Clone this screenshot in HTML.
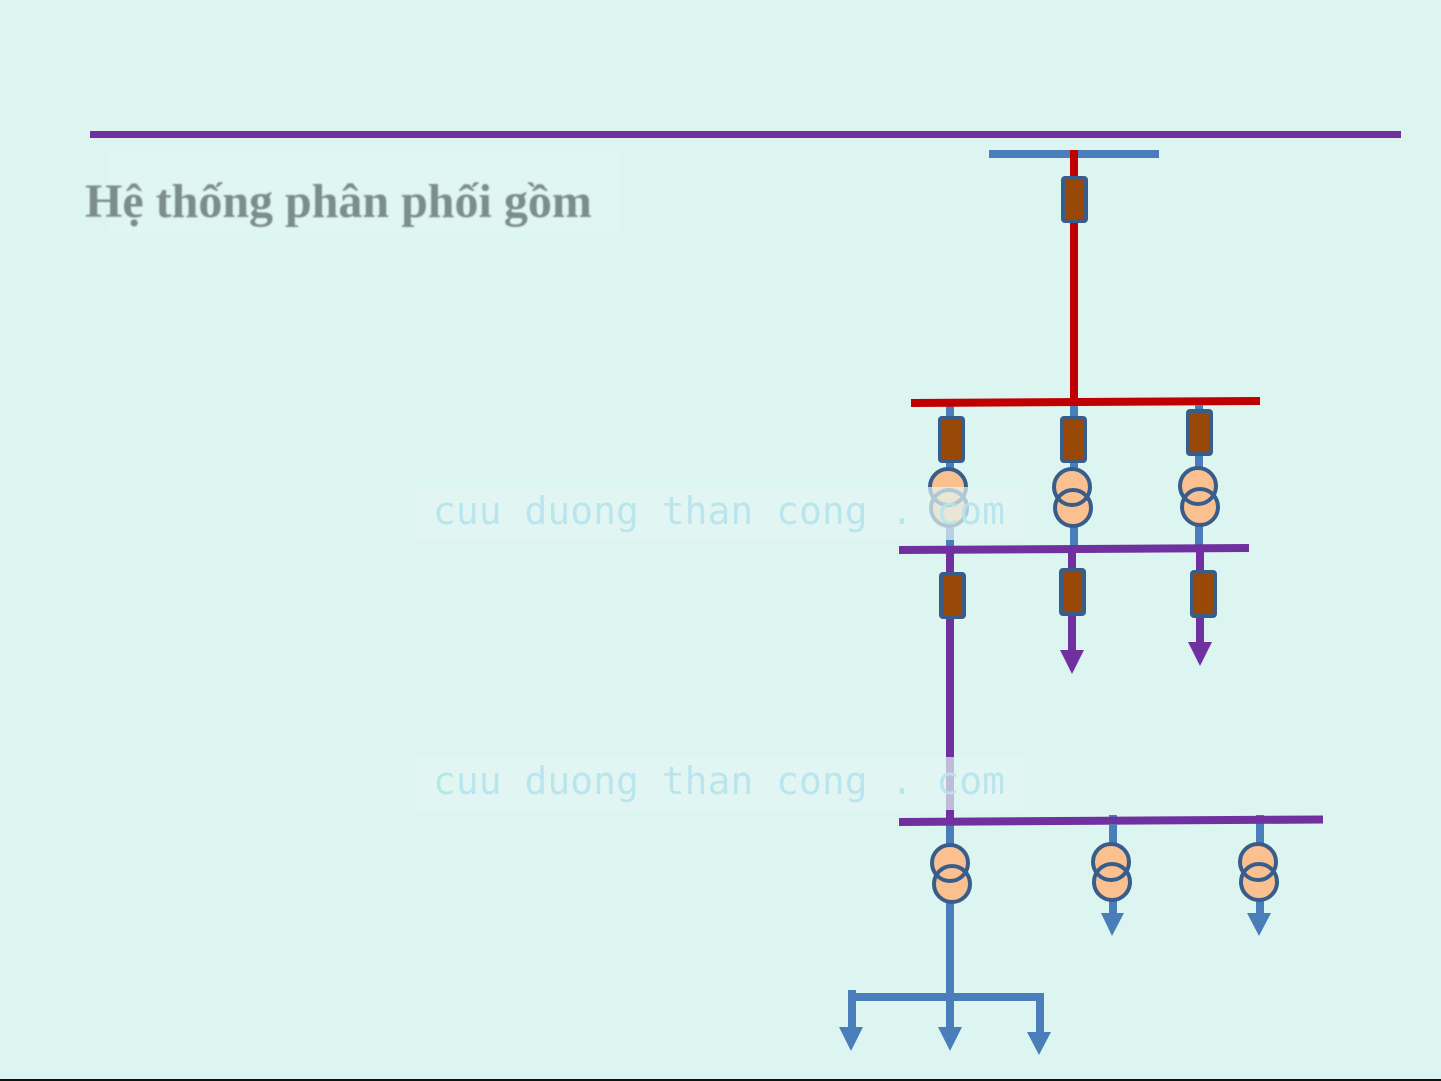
<!DOCTYPE html>
<html>
<head>
<meta charset="utf-8">
<style>
  html, body { margin: 0; padding: 0; background: #ddf5f1; }
  svg { display: block; }
</style>
</head>
<body>
<svg width="1441" height="1081" viewBox="0 0 1441 1081" xmlns="http://www.w3.org/2000/svg">
  <defs>
    <filter id="soft" x="-5%" y="-20%" width="110%" height="140%">
      <feGaussianBlur stdDeviation="0.7"/>
    </filter>
  </defs>
  <rect x="0" y="0" width="1441" height="1081" fill="#ddf5f1"/>

  <!-- top purple rule -->
  <rect x="90" y="131" width="1311" height="7" fill="#7030a0"/>

  <!-- title -->
  <rect x="110" y="153" width="510" height="80" fill="#dff6f2"/>
  <text x="85" y="217" font-family="'Liberation Serif', serif" font-weight="bold" font-size="48" fill="#7d8d88" filter="url(#soft)">Hệ thống phân phối gồm</text>

  <!-- top source bus -->
  <rect x="989" y="150" width="170" height="8" fill="#4a7ebb"/>
  <rect x="1070" y="150" width="8" height="253" fill="#c00000"/>
  <rect x="1063" y="178" width="23" height="43" rx="2" fill="#984807" stroke="#385d8a" stroke-width="4"/>

  <!-- blue feeder lines (level 1) -->
  <line x1="950" y1="403" x2="950" y2="550" stroke="#4a7ebb" stroke-width="8"/>
  <line x1="1074" y1="403" x2="1074" y2="549" stroke="#4a7ebb" stroke-width="8"/>
  <line x1="1199" y1="400" x2="1199" y2="548" stroke="#4a7ebb" stroke-width="8"/>

  <!-- red bus -->
  <line x1="911" y1="403" x2="1260" y2="401" stroke="#c00000" stroke-width="8"/>
  <line x1="950" y1="407" x2="950" y2="418" stroke="#4a7ebb" stroke-width="8"/>
  <line x1="1074" y1="406" x2="1074" y2="418" stroke="#4a7ebb" stroke-width="8"/>
  <line x1="1199" y1="405" x2="1199" y2="411" stroke="#4a7ebb" stroke-width="8"/>

  <!-- breakers level 1 -->
  <rect x="940" y="418" width="23" height="43" rx="2" fill="#984807" stroke="#385d8a" stroke-width="4"/>
  <rect x="1062" y="418" width="23" height="43" rx="2" fill="#984807" stroke="#385d8a" stroke-width="4"/>
  <rect x="1188" y="411" width="23" height="43" rx="2" fill="#984807" stroke="#385d8a" stroke-width="4"/>

  <!-- transformers level 1 -->
  <g fill="#fac090">
    <circle cx="948" cy="487" r="18"/><circle cx="949" cy="508" r="18"/>
    <circle cx="1072" cy="487" r="18"/><circle cx="1073" cy="508" r="18"/>
    <circle cx="1198" cy="486" r="18"/><circle cx="1200" cy="507" r="18"/>
  </g>
  <g fill="none" stroke="#385d8a" stroke-width="4">
    <circle cx="948" cy="487" r="18"/><circle cx="949" cy="508" r="18"/>
    <circle cx="1072" cy="487" r="18"/><circle cx="1073" cy="508" r="18"/>
    <circle cx="1198" cy="486" r="18"/><circle cx="1200" cy="507" r="18"/>
  </g>

  <!-- purple verticals -->
  <line x1="950" y1="550" x2="950" y2="822" stroke="#7030a0" stroke-width="8"/>
  <line x1="1072" y1="549" x2="1072" y2="652" stroke="#7030a0" stroke-width="8"/>
  <line x1="1200" y1="548" x2="1200" y2="644" stroke="#7030a0" stroke-width="8"/>

  <!-- purple bus 2 -->
  <line x1="899" y1="550" x2="1249" y2="548" stroke="#7030a0" stroke-width="8"/>

  <!-- breakers level 2 -->
  <rect x="941" y="574" width="23" height="43" rx="2" fill="#984807" stroke="#385d8a" stroke-width="4"/>
  <rect x="1061" y="570" width="23" height="44" rx="2" fill="#984807" stroke="#385d8a" stroke-width="4"/>
  <rect x="1192" y="572" width="23" height="44" rx="2" fill="#984807" stroke="#385d8a" stroke-width="4"/>

  <!-- purple arrowheads -->
  <polygon points="1060,650 1084,650 1072,674" fill="#7030a0"/>
  <polygon points="1188,642 1212,642 1200,666" fill="#7030a0"/>

  <!-- blue lines level 3 -->
  <line x1="950" y1="822" x2="950" y2="997" stroke="#4a7ebb" stroke-width="8"/>
  <line x1="1113" y1="815" x2="1113" y2="915" stroke="#4a7ebb" stroke-width="8"/>
  <line x1="1260" y1="815" x2="1260" y2="915" stroke="#4a7ebb" stroke-width="8"/>

  <!-- purple bus 3 -->
  <line x1="899" y1="822" x2="1323" y2="819.5" stroke="#7030a0" stroke-width="8"/>
  <line x1="950" y1="826" x2="950" y2="845" stroke="#4a7ebb" stroke-width="8"/>
  <line x1="1113" y1="824" x2="1113" y2="845" stroke="#4a7ebb" stroke-width="8"/>
  <line x1="1260" y1="824" x2="1260" y2="845" stroke="#4a7ebb" stroke-width="8"/>

  <!-- transformers level 3 -->
  <g fill="#fac090">
    <circle cx="950" cy="863" r="18"/><circle cx="952" cy="884" r="18"/>
    <circle cx="1111" cy="862" r="18"/><circle cx="1112" cy="882" r="18"/>
    <circle cx="1258" cy="862" r="18"/><circle cx="1259" cy="882" r="18"/>
  </g>
  <g fill="none" stroke="#385d8a" stroke-width="4">
    <circle cx="950" cy="863" r="18"/><circle cx="952" cy="884" r="18"/>
    <circle cx="1111" cy="862" r="18"/><circle cx="1112" cy="882" r="18"/>
    <circle cx="1258" cy="862" r="18"/><circle cx="1259" cy="882" r="18"/>
  </g>

  <!-- blue arrowheads level 3 -->
  <polygon points="1101,913 1124,913 1112,936" fill="#4a7ebb"/>
  <polygon points="1247,913 1271,913 1259,936" fill="#4a7ebb"/>

  <!-- low-voltage distribution -->
  <rect x="848" y="993" width="196" height="8" fill="#4a7ebb"/>
  <line x1="852" y1="990" x2="852" y2="1029" stroke="#4a7ebb" stroke-width="8"/>
  <line x1="950" y1="997" x2="950" y2="1029" stroke="#4a7ebb" stroke-width="8"/>
  <line x1="1040" y1="995" x2="1040" y2="1034" stroke="#4a7ebb" stroke-width="8"/>
  <polygon points="839,1027 863,1027 851,1051" fill="#4a7ebb"/>
  <polygon points="938,1027 962,1027 950,1051" fill="#4a7ebb"/>
  <polygon points="1027,1032 1051,1032 1039,1055" fill="#4a7ebb"/>

  <!-- bottom rule -->
  <rect x="0" y="1079" width="1441" height="2" fill="#111111"/>

  <!-- watermarks -->
  <g opacity="0.7">
    <rect x="416" y="487" width="609" height="53" fill="#e3f7f4"/>
    <rect x="416" y="757" width="609" height="53" fill="#e3f7f4"/>
  </g>
  <g font-family="'DejaVu Sans Mono', 'Liberation Mono', monospace" font-size="38" fill="#b8e5ed" opacity="0.95">
    <text x="433" y="524">cuu duong than cong . com</text>
    <text x="433" y="794">cuu duong than cong . com</text>
  </g>
</svg>
</body>
</html>
